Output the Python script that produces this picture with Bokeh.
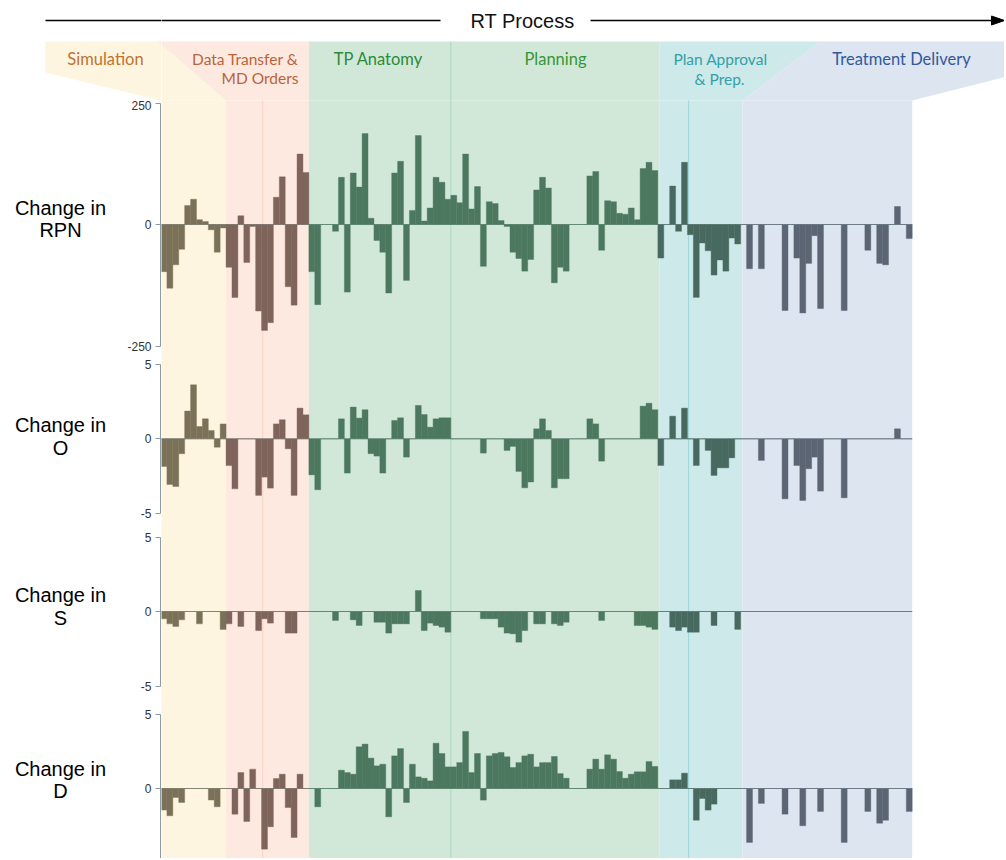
from bokeh.plotting import figure
from bokeh.models import Range1d, ColumnDataSource, FixedTicker
from bokeh.layouts import column, row
from bokeh.embed import file_html
from bokeh.resources import INLINE
from bokeh.core.properties import value

# ---------------- data ----------------
phases = ["Simulation", "Data Transfer & MD Orders", "TP Anatomy", "Planning",
          "Plan Approval & Prep.", "Treatment Delivery"]
phase_bar_counts = [11, 14, 24, 35, 14, 29]          # failure modes per phase (127)
band_edges = [0, 11, 25, 49, 84.3, 98.3, 127]        # background band edges (bar units)
sub_lines = [17.2, 89.2]                              # sub-step separators

rpn = [-97, -131, -83, -51, 39, 52, 10, 6, -11, -57, -7,
       -88, -150, 18, -78, -4, -178, -218, -202, 56, 98, -128, -166, 145, 107,
       -97, -165, 0, 0, -14, 97, -139, 106, 77, 187, 13, -33, -57, -141, 106, 130,
       -115, 29, 183, 7, 34, 97, 87, 52,
       60, 45, 145, 32, 78, -86, 47, 43, 8, -4, -57, -70, -96, -72, 71, 97, 75,
       -120, -88, -96, 0, 0, 0, 100, 109, -53, 49, 47, 23, 21, 34, 10, 115, 128, 111,
       -69, 0, 79, -14, 128, -21, -150, -38, -54, -104, -73, -96, -28, -40,
       0, -91, 0, -91, 0, 0, 0, -177, 0, -69, -182, -80, -23, -173, 0, 0, 0, -177,
       0, 0, 0, -53, 0, -80, -83, 0, 37, 0, -29]

occ = [-1.86, -3.06, -3.2, -1.0, 1.86, 3.62, 0.83, 1.34, 0.56, -0.56, 1.0,
       -1.8, -3.36, 0, 0, 0, -3.8, -2.57, -3.31, 1.0, 1.28, -0.67, -3.8, 2.06, 1.61,
       -2.42, -3.42, 0, 0, 0, 1.34, -2.3, 2.13, 1.39, 1.95, -1.0, -1.16, -2.3, 0, 1.23, 1.41,
       -1.23, 0, 2.24, 1.63, 0.78, 1.34, 1.41, 1.41,
       0, 0, 0, 0, 0, -0.96, 0, 0, 0, -0.78, -0.51, -2.19, -3.29, -2.9, 0.67, 1.34, 0.56,
       -3.29, -2.68, -2.68, 0, 0, 0, 1.34, 1.0, -1.5, 0, 0, 0, 0, 0, 0, 2.19, 2.39, 1.95,
       -1.79, 0, 1.52, 0, 2.06, 0, -1.79, 0, -0.78, -2.46, -1.95, -1.95, -1.28, 0,
       0, 0, 0, -1.45, 0, 0, 0, -4.03, 0, -1.79, -4.14, -2.01, -1.23, -3.51, 0, 0, 0, -3.96,
       0, 0, 0, 0, 0, 0, 0, 0, 0.67, 0, 0]

sev = [-0.49, -0.83, -1.0, -0.56, 0, 0, -0.83, 0, 0, 0, -1.2,
       -0.83, 0, -1.0, 0, 0, -1.28, -0.49, -0.78, 0, 0, -1.45, -1.45, 0, 0,
       0, 0, 0, 0, -0.6, 0, 0, -0.56, -0.94, 0, 0, -0.72, -0.72, -1.45, -0.83, -0.83,
       -0.83, 0, 1.41, -1.28, -0.78, -0.94, -1.05, -1.39,
       0, 0, 0, 0, 0, -0.49, -0.49, -0.49, -1.05, -1.45, -1.5, -2.06, -1.28, 0, -0.83, -0.83, 0,
       -0.83, -0.94, -0.72, 0, 0, 0, 0, 0, -0.6, 0, 0, 0, 0, 0, -0.94, -0.94, -1.05, -1.2,
       0, 0, -1.05, -1.28, -1.05, -1.39, -1.39, 0, 0, -0.94, 0, 0, 0, -1.2,
       0, 0, 0, 0, 0, 0, 0, 0, 0, 0, 0, 0, 0, 0, 0, 0, 0, 0,
       0, 0, 0, 0, 0, 0, 0, 0, 0, 0, 0]

det = [-1.45, -1.83, -0.6, -0.94, 0, 0, 0, 0, -0.78, -1.23, 0,
       0, -1.72, 1.07, -2.21, 1.3, 0, -4.07, -2.57, 0.67, 0.96, -1.28, -3.29, 0.96, 0,
       0, -1.23, 0, 0, 0, 1.23, 1.07, 0.96, 2.8, 2.98, 2.04, 1.52, 1.63, -1.9, 2.19, 2.68,
       -0.94, 1.63, 0.78, 0.69, 0.51, 3.04, 2.35, 1.45,
       1.45, 1.74, 3.83, 1.07, 2.35, -0.78, 2.19, 2.35, 2.42, 2.13, 1.41, 1.74, 2.19, 2.3, 1.45, 1.74, 1.74,
       2.15, 1.0, 0.69, 0, 0, 0, 1.3, 1.97, 1.3, 2.26, 1.97, 1.14, 0.69, 0.96, 1.12, 1.12, 1.81, 1.48,
       0, 0, 0.58, 0.58, 1.03, 0, -2.13, -0.67, -1.45, -1.05, 0, 0, 0, 0,
       0, -3.62, 0, -1.0, 0, 0, 0, -1.72, 0, 0, -2.5, 0, 0, -1.54, 0, 0, 0, -3.62,
       0, 0, 0, -1.54, 0, -2.33, -2.13, 0, 0, 0, -1.54]

panel_names = ["RPN", "O", "S", "D"]
panel_ticks = [[-250, 0, 250], [-5, 0, 5], [-5, 0, 5], [-5, 0, 5]]

# ---------------- styling / geometry ----------------
bar_colors = ["#7b7159", "#7e645a", "#4b785e", "#4b785e", "#48695f", "#5b6573"]
band_colors = ["#fef5e0", "#fde9df", "#d1e8d9", "#d1e8d9", "#cde9ea", "#dce5f0"]
text_colors = ["#c0722f", "#b9633a", "#2a8a38", "#359635", "#33a0a6", "#34589c"]

W, H = 1004, 858
HDR_H = 100
X0 = 160.5     # pixel of bar 0 left edge
BW = 5.915     # pixel width of one bar
LAB_W = 118
AX_W = 43
LEFT_W = LAB_W + AX_W      # 161: main frame starts here
XS = (LEFT_W - X0) / BW
XE = (W - X0) / BW


def px(u):
    return X0 + BW * u


def un(x):
    return (x - X0) / BW


colors = []
for c, n in zip(bar_colors, phase_bar_counts):
    colors += [c] * n
xs = [i + 0.5 for i in range(len(rpn))]

# panels: (values, top px, bottom px, zero px, px per unit, bounds, label y's)
panels = [
    (rpn, 100, 355, 224.0, 0.486, (-250, 250), (207, 229)),
    (occ, 355, 525, 438.3, 14.9, (-5, 5), (424, 447)),
    (sev, 525, 700, 611.0, 14.9, (-5, 5), (594, 617)),
    (det, 700, 858, 788.0, 14.9, (-5, 5), (768, 790)),
]


def base_fig(w, h, xr, yr, **kw):
    p = figure(width=w, height=h, x_range=xr, y_range=yr, output_backend="svg",
               toolbar_location=None, x_axis_location=None,
               min_border_right=0, min_border_top=0, min_border_bottom=0, **kw)
    p.xgrid.visible = False
    p.ygrid.visible = False
    p.outline_line_color = None
    p.background_fill_color = "white"
    p.border_fill_color = "white"
    return p


# header geometry in page pixels
e = [px(b) for b in band_edges]
top, bot = 41, HDR_H
hdr_xs = [
    [45, 157, e[1], 160, 45],
    [157, e[2], e[2], e[1]],
    [e[2], e[4], e[4], e[2]],
    [e[4], 820, e[5], e[4]],
    [820, 1010, 1010, e[6], e[5]],
]
hdr_ys = [
    [top, top, bot, bot, 72],
    [top, top, bot, bot],
    [top, top, bot, bot],
    [top, top, bot, bot],
    [top, top, 75, bot, bot],
]
hdr_fill = [band_colors[0], band_colors[1], band_colors[2], band_colors[4], band_colors[5]]

hl_x = [105, 298, 298, 378, 555, 720, 719, 901]
hl_y = [58, 58, 77, 58, 58, 58, 78, 58]
hl_t = ["Simulation", "Data Transfer &", "MD Orders", "TP Anatomy", "Planning",
        "Plan Approval", "& Prep.", "Treatment Delivery"]
hl_a = ["center", "right", "right", "center", "center", "center", "center", "center"]
hl_c = [text_colors[0], text_colors[1], text_colors[1], text_colors[2], text_colors[3],
        text_colors[4], text_colors[4], text_colors[5]]
hl_s = ["16.5px", "15.5px", "15.5px", "16.5px", "16.5px", "15.5px", "15.5px", "16.5px"]


def draw_header(p, conv, left_part):
    p.patches(xs=[[conv(x) for x in poly] for poly in hdr_xs], ys=hdr_ys,
              fill_color=hdr_fill, line_color=None)
    p.segment(x0=[conv(45), conv(590)], y0=[20, 20], x1=[conv(440), conv(994)], y1=[20, 20],
              line_color="black", line_width=1.6)
    idx = [i for i, x in enumerate(hl_x) if (x < LEFT_W) == left_part]
    if idx:
        p.text(x=[conv(hl_x[i]) for i in idx], y=[hl_y[i] for i in idx],
               text=[hl_t[i] for i in idx], text_align=[hl_a[i] for i in idx],
               text_color=[hl_c[i] for i in idx], text_font_size=[hl_s[i] for i in idx],
               text_baseline="middle", text_font=value("Lato"))
    if not left_part:
        p.patch(x=[conv(991), conv(1004), conv(991)], y=[15.5, 20, 24.5],
                fill_color="black", line_color="black")
        p.text(x=[conv(522)], y=[20], text=["RT Process"], text_align="center",
               text_baseline="middle", text_font=value("Liberation Sans"),
               text_font_size="20px", text_color="#111111")


# ---------------- left column: header part, labels and y axes ----------------
hdr_left = base_fig(LEFT_W, HDR_H, Range1d(0, LEFT_W), Range1d(HDR_H, 0),
                    y_axis_location=None, min_border_left=0)
draw_header(hdr_left, lambda x: x, True)

left_items = [hdr_left]
for name, ticks, (vals, ptop, pbot, zero, scale, bounds, lab_y) in zip(panel_names, panel_ticks, panels):
    h = pbot - ptop
    ystart = -(pbot - zero) / scale
    yend = (zero - ptop) / scale

    lab = base_fig(LAB_W, h, Range1d(0, LAB_W), Range1d(pbot, ptop),
                   y_axis_location=None, min_border_left=0)
    lab.text(x=[60, 60], y=list(lab_y), text=["Change in", name], text_align="center",
             text_baseline="middle", text_font=value("Liberation Sans"), text_font_size="20px",
             text_color="black")

    axf = base_fig(AX_W, h, Range1d(0, 1), Range1d(ystart, yend), min_border_left=AX_W - 1)
    ax = axf.yaxis[0]
    ax.ticker = FixedTicker(ticks=ticks)
    ax.bounds = bounds
    ax.major_label_overrides = {t: str(t) for t in ticks}
    ax.minor_tick_line_color = None
    ax.axis_line_color = "#8a9ba4"
    ax.major_tick_line_color = "#8a9ba4"
    ax.major_tick_out = 5
    ax.major_tick_in = 0
    ax.major_label_standoff = 4
    ax.major_label_text_font = "Liberation Sans"
    ax.major_label_text_font_size = "12px"
    ax.major_label_text_color = "#333333"

    left_items.append(row(lab, axf))

left_col = column(*left_items)

# ---------------- main figure: header bands + four panels ----------------
main = base_fig(W - LEFT_W, H, Range1d(XS, XE), Range1d(H, 0),
                y_axis_location=None, min_border_left=0)
draw_header(main, un, False)

main.quad(left=band_edges[:-1], right=band_edges[1:], bottom=[H] * 6, top=[HDR_H] * 6,
          fill_color=band_colors, line_color=None)
main.segment(x0=[band_edges[3]], y0=[top], x1=[band_edges[3]], y1=[H],
             line_color="#a9d6c0", line_width=1)
main.segment(x0=sub_lines, y0=[HDR_H, HDR_H], x1=sub_lines, y1=[H, H],
             line_color=["#f8d3c4", "#9fd5da"], line_width=1)

for k, (name, (vals, ptop, pbot, zero, scale, bounds, lab_y)) in enumerate(zip(panel_names, panels)):
    rname = "p%d" % k
    main.extra_y_ranges[rname] = Range1d(-(H - zero) / scale, zero / scale)
    main.segment(x0=[0], y0=[0], x1=[band_edges[-1]], y1=[0], line_color="#8fa6a6",
                 line_width=1, y_range_name=rname)
    src = ColumnDataSource(dict(x=xs, v=vals, c=colors))
    main.vbar(x="x", top="v", bottom=0, width=1.0, fill_color="c", line_color="c",
              line_width=0.4, source=src, y_range_name=rname)

layout = row(left_col, main)
open("out.html", "w").write(file_html(layout, INLINE))
